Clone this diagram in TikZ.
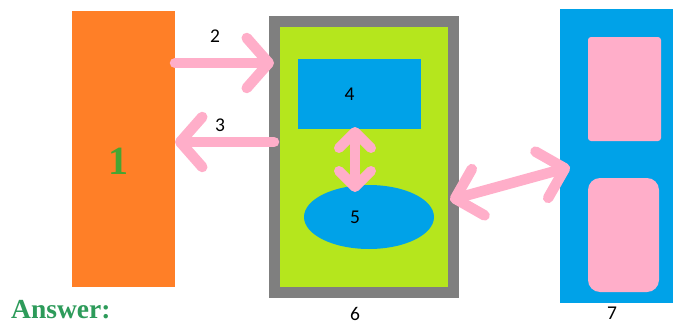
\documentclass[tikz,border=0pt]{standalone}
\usepackage{fontspec}
\setmainfont{Carlito}
\newfontfamily\tnr{Liberation Serif}
\usetikzlibrary{arrows.meta,shapes.geometric}
\definecolor{orng}{HTML}{FF7F27}
\definecolor{lime}{HTML}{B5E61D}
\definecolor{frgray}{HTML}{7F7F7F}
\definecolor{sky}{HTML}{00A2E8}
\definecolor{rose}{HTML}{FFAEC9}
\definecolor{ansgreen}{RGB}{45,155,90}
\definecolor{onegreen}{RGB}{70,165,50}
\tikzset{
  blk/.style={rectangle, inner sep=0pt, outer sep=0pt},
  digit/.style={font=\fontsize{19.5}{21}\selectfont, text=black, inner sep=0pt},
  bigarrow/.style={draw=rose, line width=10.5pt, line cap=round, line join=round,
    arrows={-Straight Barb[length=22pt,width=50pt,round]}},
  dblarrow/.style={draw=rose, line width=10.5pt, line cap=round, line join=round,
    arrows={Straight Barb[length=24pt,width=48pt,round]-Straight Barb[length=24pt,width=48pt,round]}},
  smallarrow/.style={draw=rose, line width=10pt, line cap=round, line join=round,
    arrows={Straight Barb[length=16pt,width=32pt,round]-Straight Barb[length=16pt,width=32pt,round]}}
}
\begin{document}
\begin{tikzpicture}[x=1pt,y=-1pt]
\clip (0,0) rectangle (673,324);
\fill[white] (0,0) rectangle (673,324);
% box 1
\node[blk, fill=orng, minimum width=103pt, minimum height=276pt,
  label={[xshift=-5pt,yshift=-12pt,font=\tnr\bfseries\fontsize{40}{40}\selectfont,text=onegreen]center:1}]
  (o) at (123.5,149) {};
% frame 6
\node[blk, fill=lime, draw=frgray, line width=11pt, minimum width=179pt, minimum height=271pt]
  (f) at (363.5,157) {};
% box 4
\node[blk, fill=sky, minimum width=123pt, minimum height=70pt,
  label={[digit,xshift=-10pt]center:4}] (b4) at (359.5,94) {};
% ellipse 5
\node[ellipse, fill=sky, inner sep=0pt, outer sep=0pt, minimum width=130pt, minimum height=64pt,
  label={[digit,xshift=-14pt]center:5}] (e5) at (369,217) {};
% box 7
\node[blk, fill=sky, minimum width=130pt, minimum height=294pt] (r7) at (625,156) {};
\node[blk, fill=rose, rounded corners=3pt, minimum width=73pt, minimum height=104pt] (p1) at (624.5,89) {};
\node[blk, fill=rose, rounded corners=12pt, minimum width=71pt, minimum height=114pt] (p2) at (623.5,235) {};
% labels
\node[digit] (l2) at (215,36) {2};
\node[digit] (l3) at (220,125) {3};
\node[digit] (l6) at (355,314) {6};
\node[digit] (l7) at (612,313) {7};
\node[font=\tnr\bfseries\fontsize{27.5}{27.5}\selectfont, text=ansgreen, inner sep=0pt, anchor=base west] (ans) at (11,318) {Answer:};
% arrows
\draw[bigarrow] ([yshift=86pt]o.east) -- ([yshift=86pt]o.east -| f.west);
\draw[bigarrow] ([yshift=7pt]o.east -| f.west) -- ([yshift=7pt]o.east);
\draw[smallarrow] ([xshift=-4.5pt,yshift=2pt]b4.south) -- ([xshift=-4.5pt,yshift=-7pt]b4.south |- e5.north);
\draw[dblarrow] ([yshift=-43pt,xshift=-3pt]f.east) -- ([yshift=-11pt,xshift=10pt]r7.west);
\end{tikzpicture}
\end{document}
